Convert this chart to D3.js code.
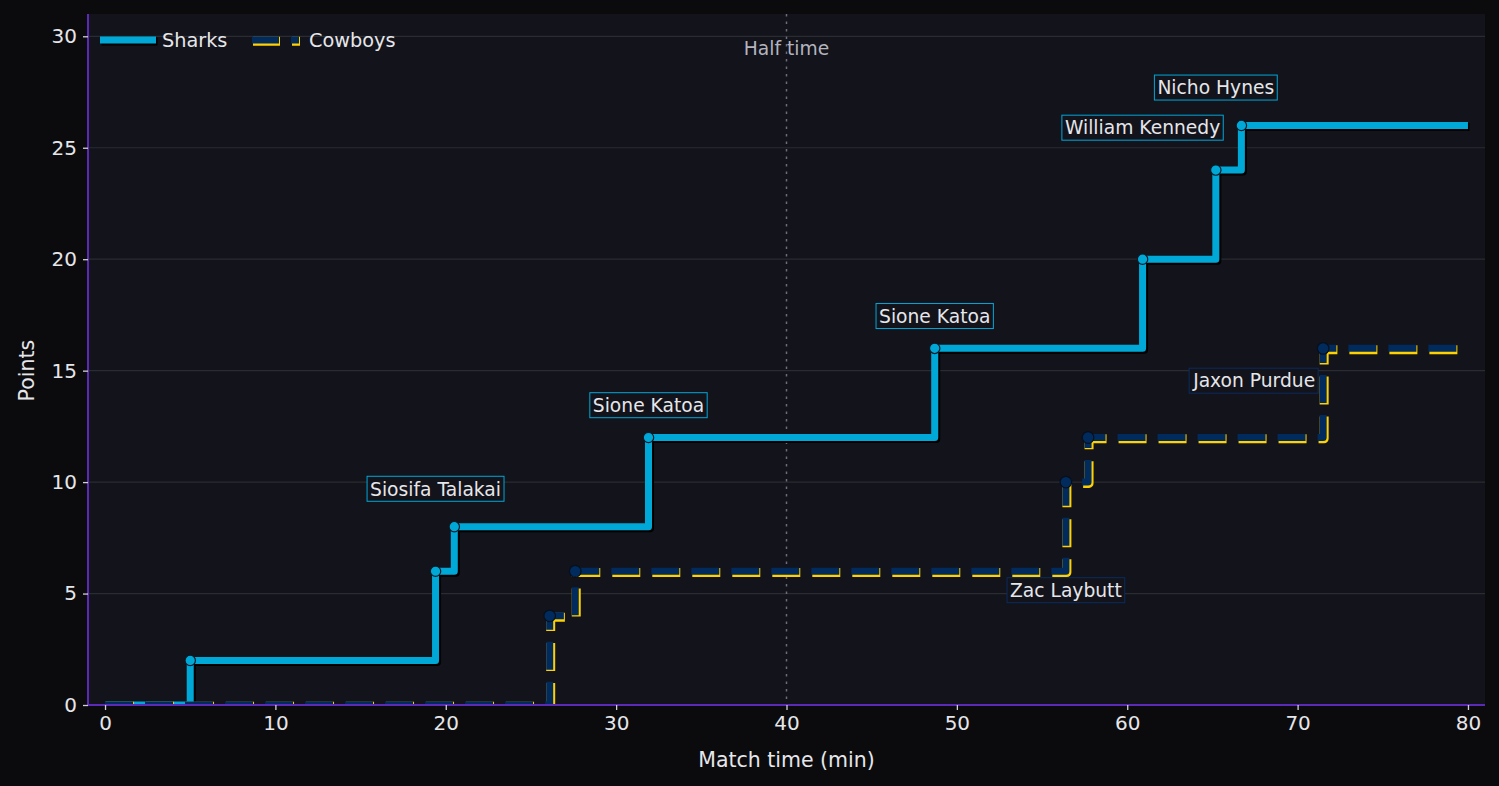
<!DOCTYPE html>
<html>
<head>
<meta charset="utf-8">
<script src="https://cdn.jsdelivr.net/npm/d3@7"></script>
<style>
  html, body { margin: 0; padding: 0; background: #0b0b0e; }
  svg { display: block; font-family: "DejaVu Sans", sans-serif; }
</style>
</head>
<body>
<div id="chart"></div>
<script>
// Scoring timeline (minute, cumulative points)
const sharkMinutes = [5, 19.4, 20.5, 31.9, 48.7, 60.9, 65.2, 66.7];
const sharkScores = [2, 6, 8, 12, 16, 20, 24, 26];
const cowboyMinutes = [26.1, 27.6, 56.4, 57.7, 71.5];
const cowboyScores = [4, 6, 10, 12, 16];
const fullTime = 80;
const halfTime = 40;

// Try scorers
const tryTeams = ["Sharks", "Sharks", "Sharks", "Sharks", "Sharks", "Cowboys", "Cowboys"];
const tryMinutes = [19.4, 31.9, 48.7, 60.9, 65.2, 56.4, 71.5];
const tryScores = [6, 12, 16, 20, 24, 10, 16];
const tryPlayers = ["Siosifa Talakai", "Sione Katoa", "Sione Katoa", "William Kennedy",
                    "Nicho Hynes", "Zac Laybutt", "Jaxon Purdue"];

const xTicks = [0, 10, 20, 30, 40, 50, 60, 70, 80];
const yTicks = [0, 5, 10, 15, 20, 25, 30];

// label nudges (data units) so the boxes don't sit on the lines
const labelShift = [[0, 3.7], [0, 1.45], [0, 1.45], [0, 5.9], [0, 3.7], [0, -4.85], [-4.05, -1.45]];

const W = 1499, H = 786;
const margin = { top: 14, right: 14, bottom: 81, left: 88 };
const width = W - margin.left - margin.right;
const height = H - margin.top - margin.bottom;

const sharkCol = "#00a8d8";
const navy = "#002b5c";
const gold = "#ffd100";

const svg = d3.select("#chart")
    .append("svg")
    .attr("width", W)
    .attr("height", H);

svg.append("rect").attr("width", W).attr("height", H).attr("fill", "#0b0b0e");

svg.append("defs").append("clipPath")
    .attr("id", "plotclip")
    .append("rect")
    .attr("width", width)
    .attr("height", height);

const g = svg.append("g")
    .attr("transform", `translate(${margin.left},${margin.top})`);

g.append("rect").attr("width", width).attr("height", height).attr("fill", "#12131b");

const x = d3.scaleLinear().domain([-1, 81]).range([0, width]);
const y = d3.scaleLinear().domain([0, 31]).range([height, 0]);

// grid
g.append("g")
    .selectAll("line")
    .data(yTicks)
    .join("line")
    .attr("x1", 0).attr("x2", width)
    .attr("y1", d => y(d)).attr("y2", d => y(d))
    .attr("stroke", "#2b2c31")
    .attr("stroke-width", 1.2);

// half time marker
g.append("line")
    .attr("x1", x(halfTime)).attr("x2", x(halfTime))
    .attr("y1", 0).attr("y2", height)
    .attr("stroke", "#6e6e7a")
    .attr("stroke-width", 1.5)
    .attr("stroke-dasharray", "2.5,5");

g.append("text")
    .attr("x", x(halfTime))
    .attr("y", y(29.45))
    .attr("dy", "0.35em")
    .attr("text-anchor", "middle")
    .attr("fill", "#b4b4bf")
    .style("font-size", "18.7px")
    .text("Half time");

function series(minutes, scores) {
    const pts = [{ m: 0, s: 0 }];
    minutes.forEach((m, i) => pts.push({ m: m, s: scores[i] }));
    pts.push({ m: fullTime, s: scores[scores.length - 1] });
    return pts;
}

const step = d3.line()
    .x(d => x(d.m))
    .y(d => y(d.s))
    .curve(d3.curveStepAfter);

const sharks = series(sharkMinutes, sharkScores);
const cowboys = series(cowboyMinutes, cowboyScores);

const plot = g.append("g").attr("clip-path", "url(#plotclip)");

// Sharks: shadow + line
plot.append("path")
    .attr("d", step(sharks))
    .attr("transform", "translate(1.5,1.5)")
    .attr("fill", "none")
    .attr("stroke", "#000")
    .attr("stroke-width", 8)
    .attr("stroke-linejoin", "round");
plot.append("path")
    .attr("d", step(sharks))
    .attr("fill", "none")
    .attr("stroke", sharkCol)
    .attr("stroke-width", 7)
    .attr("stroke-linejoin", "round");
plot.append("g")
    .selectAll("circle")
    .data(sharkMinutes)
    .join("circle")
    .attr("cx", d => x(d))
    .attr("cy", (d, i) => y(sharkScores[i]))
    .attr("r", 5.2)
    .attr("fill", sharkCol)
    .attr("stroke", "#0c1a26")
    .attr("stroke-width", 1.2);

// Cowboys: gold outline + navy dashes
const dash = "28,12";
plot.append("path")
    .attr("d", step(cowboys))
    .attr("transform", "translate(1,1.3)")
    .attr("fill", "none")
    .attr("stroke", gold)
    .attr("stroke-width", 9)
    .attr("stroke-dasharray", dash)
    .attr("stroke-linejoin", "round");
plot.append("path")
    .attr("d", step(cowboys))
    .attr("fill", "none")
    .attr("stroke", navy)
    .attr("stroke-width", 7)
    .attr("stroke-dasharray", dash)
    .attr("stroke-linejoin", "round");
plot.append("g")
    .selectAll("circle")
    .data(cowboyMinutes)
    .join("circle")
    .attr("cx", d => x(d))
    .attr("cy", (d, i) => y(cowboyScores[i]))
    .attr("r", 5.8)
    .attr("fill", navy)
    .attr("stroke", "#06101e")
    .attr("stroke-width", 1.2);

// try scorer labels
tryPlayers.forEach((name, i) => {
    const lx = x(tryMinutes[i] + labelShift[i][0]);
    const ly = y(tryScores[i] + labelShift[i][1]);
    const lab = g.append("g");
    const t = lab.append("text")
        .attr("x", lx)
        .attr("y", ly)
        .attr("dy", "0.36em")
        .attr("text-anchor", "middle")
        .attr("fill", "#e6e6ea")
        .style("font-size", "18.7px")
        .text(name);
    const bb = t.node().getBBox();
    lab.insert("rect", "text")
        .attr("x", bb.x - 3)
        .attr("y", ly - 12.5)
        .attr("width", bb.width + 6)
        .attr("height", 25)
        .attr("fill", "#12131b")
        .attr("stroke", tryTeams[i] === "Sharks" ? sharkCol : "#0b2d5e")
        .attr("stroke-width", 1);
});

// axes
const xAxis = g.append("g")
    .attr("transform", `translate(0,${height})`)
    .call(d3.axisBottom(x).tickValues(xTicks).tickSize(5).tickPadding(6));
const yAxis = g.append("g")
    .call(d3.axisLeft(y).tickValues(yTicks).tickSize(5).tickPadding(6));

[xAxis, yAxis].forEach(a => {
    a.select(".domain").attr("stroke", "#5b2bb8").attr("stroke-width", 2);
    a.selectAll(".tick line").attr("stroke", "#d0d0d6").attr("stroke-width", 1.3);
    a.selectAll(".tick text")
        .attr("fill", "#e6e6ea")
        .style("font-size", "20px")
        .style("font-family", "DejaVu Sans, sans-serif");
});
xAxis.select(".domain").attr("d", `M0,0H${width}`);
yAxis.select(".domain").attr("d", `M0,0V${height}`);

g.append("text")
    .attr("x", x(40))
    .attr("y", height + 62)
    .attr("text-anchor", "middle")
    .attr("fill", "#e6e6ea")
    .style("font-size", "20.5px")
    .text("Match time (min)");

g.append("text")
    .attr("transform", "rotate(-90)")
    .attr("x", -(y(15)))
    .attr("y", -54)
    .attr("text-anchor", "middle")
    .attr("fill", "#e6e6ea")
    .style("font-size", "20.5px")
    .text("Points");

// legend
const lg = svg.append("g").attr("transform", "translate(100,40)");
lg.append("line").attr("x1", 1.5).attr("x2", 57.5).attr("y1", 1.5).attr("y2", 1.5)
    .attr("stroke", "#000").attr("stroke-width", 8);
lg.append("line").attr("x1", 0).attr("x2", 56).attr("y1", 0).attr("y2", 0)
    .attr("stroke", sharkCol).attr("stroke-width", 7);
lg.append("text").attr("x", 62).attr("dy", "0.36em")
    .attr("fill", "#e6e6ea").style("font-size", "19.3px").text("Sharks");
lg.append("line").attr("x1", 153).attr("x2", 200).attr("y1", 1.3).attr("y2", 1.3)
    .attr("stroke", gold).attr("stroke-width", 9).attr("stroke-dasharray", "27,12");
lg.append("line").attr("x1", 152).attr("x2", 199).attr("y1", 0).attr("y2", 0)
    .attr("stroke", navy).attr("stroke-width", 7).attr("stroke-dasharray", "27,12");
lg.append("text").attr("x", 209).attr("dy", "0.36em")
    .attr("fill", "#e6e6ea").style("font-size", "19.3px").text("Cowboys");
</script>
</body>
</html>
